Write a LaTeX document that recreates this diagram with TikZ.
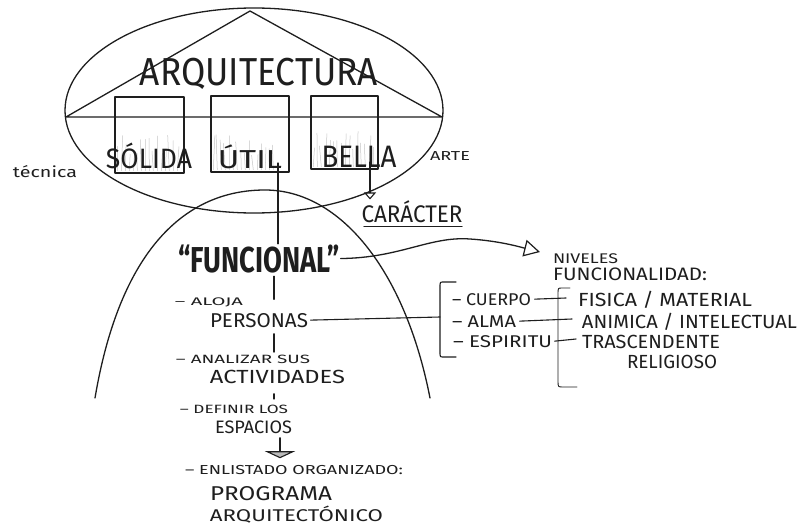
\documentclass[tikz,border=0pt]{standalone}
\usepackage{fontspec}
\setmainfont{Fira Sans}
\usetikzlibrary{arrows.meta,calc}
\definecolor{ink}{HTML}{1E1E1E}
% text set at a given size, then stretched to a given width
\newcommand\handtxt[3]{\resizebox{#1pt}{\height}{\fontsize{#2}{#2}\selectfont #3}}

\begin{document}
\begin{tikzpicture}[x=1pt,y=-1pt, line width=1.3pt, line cap=round, line join=round,
  draw=ink, text=ink,
  lbl/.style={inner sep=0pt, anchor=base},
  boxnode/.style={draw, inner sep=0pt, line width=1.4pt},
  hatch/.style={draw=gray!45, line width=0.5pt},
  brk/.style={line width=1.1pt},
  hollowtip/.style={-{Triangle[open,length=16pt,width=17pt,line width=1.2pt]}}]
\fill[white] (0,0) rectangle (798,527);
\useasboundingbox (0,0) rectangle (798,527);

% the arch
\draw (95,398) .. controls (120,250) and (185,190) .. (265,190)
      .. controls (340,190) and (405,270) .. (430,398);

% ellipse with the roof
\draw (254,110.5) ellipse [x radius=189, y radius=102.5];
\draw (66,117) -- (250,11) -- (442,117) -- cycle;

% the three boxes
\node[boxnode, minimum width=69pt, minimum height=76pt] (bsol) at (149.5,135) {};
\node[boxnode, minimum width=78pt, minimum height=76pt] (butil) at (250,134) {};
\node[boxnode, minimum width=67pt, minimum height=73pt] (bbel) at (344.5,132.5) {};
\pgfmathsetseed{7}
\foreach \b in {bsol,butil,bbel}{
  \foreach \i in {0,...,15}{
    \draw[hatch] ($(\b.south west)+(3+\i*4,-3)$) -- ++({rand*2},{-14-rnd*22});
  }
}

% titles
\node[lbl] (arq) at (259,85) {\handtxt{238}{39}{ARQUITECTURA}};
\node[lbl] (sol) at (149,168) {\handtxt{86}{28}{SÓLIDA}};
\node[lbl] (util) at (250,168) {\handtxt{64}{26}{ÚTIL}};
\node[lbl] (bel) at (359,167) {\handtxt{75}{31}{BELLA}};
\node[lbl] (tec) at (45,177) {\handtxt{64}{15}{técnica}};
\node[lbl] (arte) at (450,160) {\handtxt{40}{13}{ARTE}};
\node[lbl] (car) at (412,222) {\handtxt{101}{24}{CARÁCTER}};
\draw[line width=1.1pt] ([xshift=3pt,yshift=-4pt]car.south west) -- ([xshift=-1pt,yshift=-4pt]car.south east);

% connectors from the boxes
\coordinate (u1) at (278,163);
\coordinate (b1) at (370,162);
\node[lbl] (func) at (259,272) {\handtxt{162}{36}{\bfseries “FUNCIONAL”}};
\draw (u1) -- (u1 |- func.north);
\draw[-{Triangle[open,length=7pt,width=12pt,line width=1.1pt]}] (b1) -- (b1 |- car.north) ;

% levels of functionality
\coordinate (tip) at (540,252);
\draw[hollowtip] (func.east) .. controls (400,258) and (430,236) .. (470,239)
      .. controls (500,241) and (520,247) .. (tip);
\node[lbl] (niv) at (585.5,263) {\handtxt{65}{14}{NIVELES}};
\node[lbl] (fnd) at (630,280) {\handtxt{154}{18}{FUNCIONALIDAD:}};

% first bracket and its list
\coordinate (br1m) at (440,317);
\draw[brk] (456,282) -- (443,282) .. controls (440,282) .. (440,288) -- (440,351)
      .. controls (440,357) .. (443,357) -- (456,357);
\node[lbl] (cuer) at (491.5,305) {\handtxt{79}{17}{– CUERPO}};
\node[lbl] (alma) at (484,327) {\handtxt{64}{17}{– ALMA}};
\node[lbl] (espi) at (502.5,347) {\handtxt{99}{17}{– ESPIRITU}};

% second bracket and its list
\draw[brk, line width=0.9pt] (570,288) -- (562,288) .. controls (558,288) .. (558,294) -- (558,381)
      .. controls (558,387) .. (563,387) -- (577,387);
\coordinate (k1) at (566,298);
\coordinate (k2) at (572,319);
\coordinate (k3) at (576,339);
\draw[brk] ([xshift=3pt]cuer.east) -- (k1);
\draw[brk] ([xshift=3pt]alma.east) -- (k2);
\draw[brk] ([xshift=2pt]espi.east) -- (k3);
\node[lbl] (fis) at (665,306) {\handtxt{174}{19}{FISICA / MATERIAL}};
\node[lbl] (ani) at (689.5,328) {\handtxt{215}{19}{ANIMICA / INTELECTUAL}};
\node[lbl] (tra) at (651,348) {\handtxt{138}{19}{TRASCENDENTE}};
\node[lbl] (rel) at (672,368) {\handtxt{90}{19}{RELIGIOSO}};

% the sequence down the arch
\coordinate (vx) at (274,0);
\coordinate (vy) at (280,0);
\node[lbl] (aloja) at (209,305) {\handtxt{68}{11}{– ALOJA}};
\node[lbl] (pers) at (259,327) {\handtxt{98}{20}{PERSONAS}};
\node[lbl] (anal) at (243,363) {\handtxt{134}{12}{– ANALIZAR SUS}};
\node[lbl] (acti) at (277.5,383) {\handtxt{135}{19}{ACTIVIDADES}};
\node[lbl] (defi) at (234,413) {\handtxt{108}{12}{– DEFINIR LOS}};
\node[lbl] (espa) at (253.5,433) {\handtxt{77}{18}{ESPACIOS}};
\node[lbl] (enli) at (294,474) {\handtxt{218}{13}{– ENLISTADO ORGANIZADO:}};
\node[lbl] (prog) at (271,500) {\handtxt{122}{20}{PROGRAMA}};
\node[lbl] (arqt) at (296.5,521) {\handtxt{173}{17}{ARQUITECTÓNICO}};

\draw[brk] ([xshift=2pt]pers.east) -- (br1m);
\draw[shorten <=3pt, shorten >=13pt] (func.south -| vx) -- (pers.north -| vx);
\draw[shorten <=6pt, shorten >=17pt] (pers.south -| vx) -- (acti.north -| vx);
\draw[shorten <=10pt, shorten >=5pt] (acti.south -| vx) -- (defi.north -| vx);
\draw[shorten <=4pt, shorten >=6pt, -{Triangle[length=7pt,width=30pt,fill=gray!55,line width=1.1pt]}]
      (espa.south -| vy) -- (enli.north -| vy);
\end{tikzpicture}
\end{document}
